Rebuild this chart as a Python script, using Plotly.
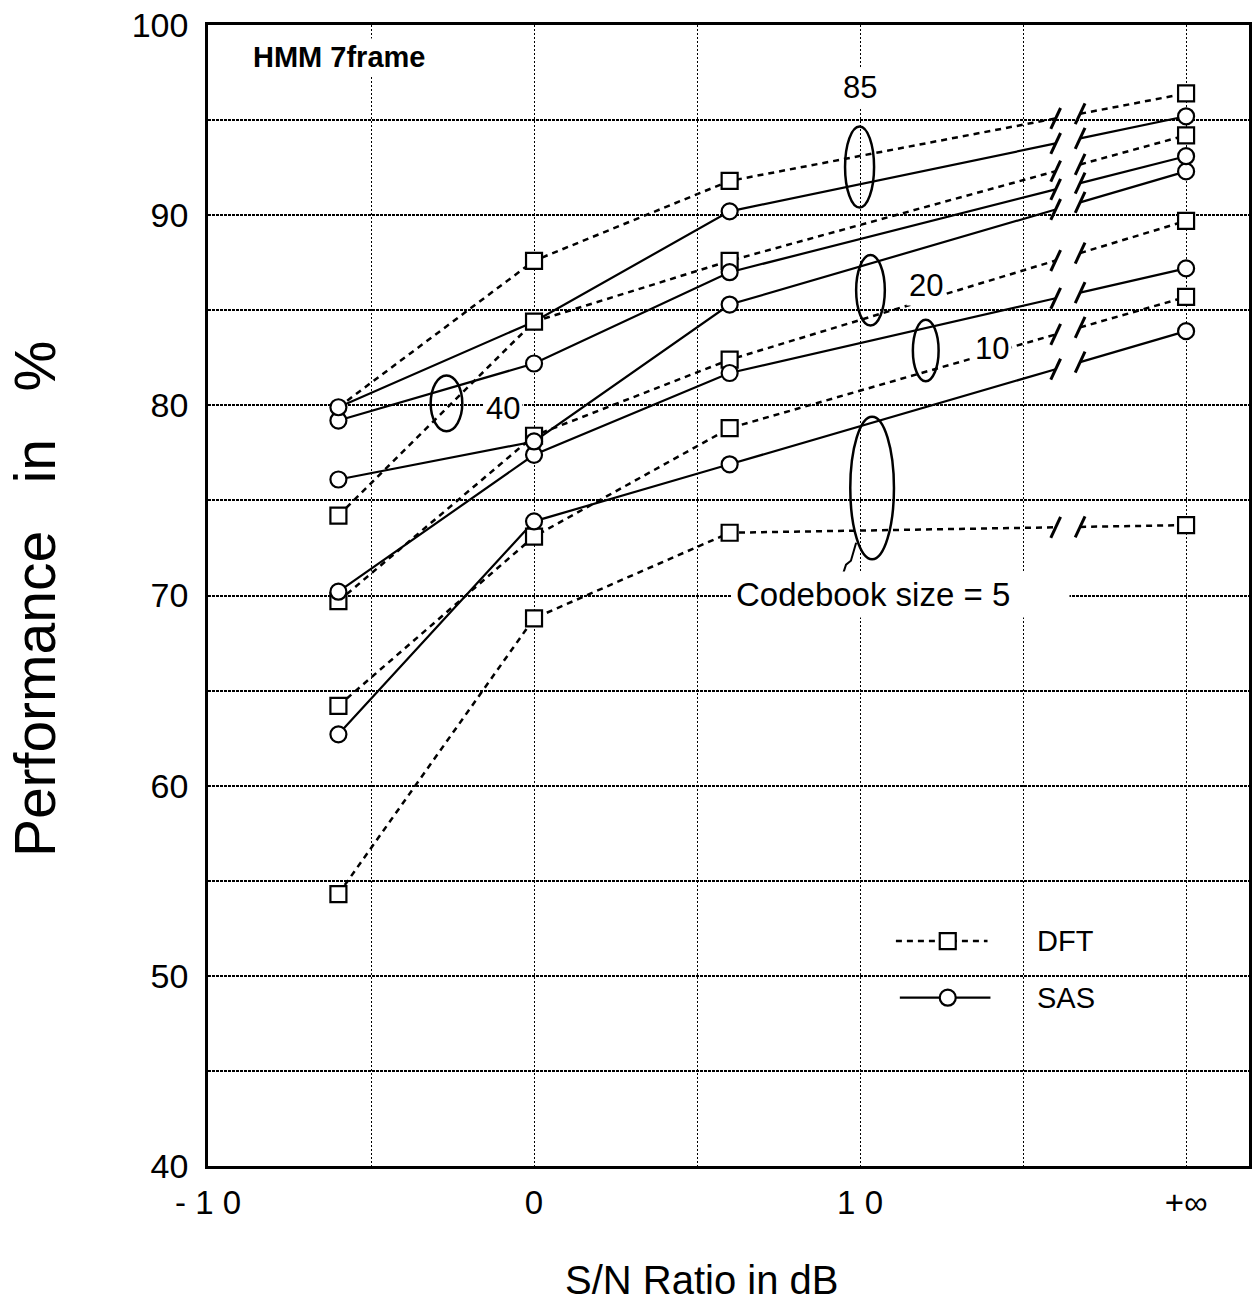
import plotly.graph_objects as go

# ---------------- data ----------------
SN_POS = [-6, 0, 6, 20]          # 20 stands for "+inf" on the axis
CODEBOOK_SIZES = [5, 10, 20, 40, 85]

DFT_5 = [54.3, 68.8, 73.3, 73.7]
DFT_10 = [64.2, 73.1, 78.8, 85.7]
DFT_20 = [69.7, 78.4, 82.4, 89.7]
DFT_40 = [74.2, 84.4, 87.6, 94.2]
DFT_85 = [79.9, 87.6, 91.8, 96.4]

SAS_5 = [62.7, 73.9, 76.9, 83.9]
SAS_10 = [70.2, 77.4, 81.7, 87.2]
SAS_20 = [76.1, 78.1, 85.3, 92.3]
SAS_40 = [79.2, 82.2, 87.0, 93.1]
SAS_85 = [79.9, 84.4, 90.2, 95.2]

DFT = {5: DFT_5, 10: DFT_10, 20: DFT_20, 40: DFT_40, 85: DFT_85}
SAS = {5: SAS_5, 10: SAS_10, 20: SAS_20, 40: SAS_40, 85: SAS_85}

# markers hidden beneath another marker in the original drawing
HIDDEN_DFT = {85: [0]}
HIDDEN_SAS = {85: [1]}

X_TICKS = [-10, 0, 10, 20]
X_TICK_TEXT = ["-\u00a01\u00a00", "0", "1\u00a00", "+\u221e"]
Y_TICKS = [40, 50, 60, 70, 80, 90, 100]

# axis-break positions between 15 dB and +inf
BREAK_X = [16.0, 16.75]

# ---------------- style ----------------
FONT = "Liberation Sans, Arial, Helvetica, sans-serif"
DASH = "6px,5px"

fig = go.Figure()


def broken_series(vals):
    """line coordinates with the axis break between the last two points"""
    x6, xi = SN_POS[2], SN_POS[3]
    y6, yi = vals[2], vals[3]
    yb = [y6 + (yi - y6) * (b - x6) / (xi - x6) for b in BREAK_X]
    xs = SN_POS[:3] + [BREAK_X[0], None, BREAK_X[1], SN_POS[3]]
    ys = vals[:3] + [yb[0], None, yb[1], vals[3]]
    return xs, ys, yb


slash_x, slash_y = [], []
dx, dy = 0.15, 0.55

# lines
for kind, table, dash in (("DFT", DFT, DASH), ("SAS", SAS, "solid")):
    for n in CODEBOOK_SIZES:
        xs, ys, yb = broken_series(table[n])
        fig.add_trace(go.Scatter(
            x=xs, y=ys, mode="lines", connectgaps=False,
            line=dict(color="black", width=2.5 if kind == "DFT" else 2.2, dash=dash),
            hoverinfo="skip", showlegend=False))
        for b, y in zip(BREAK_X, yb):
            slash_x += [b - dx, b + dx, None]
            slash_y += [y - dy, y + dy, None]

fig.add_trace(go.Scatter(x=slash_x, y=slash_y, mode="lines",
                         line=dict(color="black", width=3),
                         hoverinfo="skip", showlegend=False))

# markers: squares first, circles on top
for kind, table, sym, hidden in (("DFT", DFT, "square", HIDDEN_DFT),
                                 ("SAS", SAS, "circle", HIDDEN_SAS)):
    for n in CODEBOOK_SIZES:
        op = [0 if i in hidden.get(n, []) else 1 for i in range(len(SN_POS))]
        fig.add_trace(go.Scatter(
            x=SN_POS, y=table[n], mode="markers",
            marker=dict(symbol=sym, size=16, color="white",
                        opacity=op, line=dict(color="black", width=2.2)),
            name=f"{kind} {n}", showlegend=False))

# ellipses grouping the codebook sizes
ELLIPSES = [  # (x0, x1, y0, y1)
    (9.54, 10.43, 90.4, 94.66),    # 85
    (-3.17, -2.20, 78.64, 81.57),  # 40
    (9.88, 10.76, 84.2, 87.9),     # 20
    (11.62, 12.41, 81.26, 84.5),   # 10
    (9.70, 11.04, 71.9, 79.4),     # 5
]
shapes = []
for x0, x1, y0, y1 in ELLIPSES:
    shapes.append(dict(type="circle", xref="x", yref="y", x0=x0, x1=x1, y0=y0, y1=y1,
                       line=dict(color="black", width=2.5), layer="above"))

# leader squiggle for "Codebook size = 5"
shapes.append(dict(type="path", xref="x", yref="y",
                   path="M 9.39 70.68 L 9.57 71.62 L 9.72 71.83 L 9.88 72.77",
                   line=dict(color="black", width=2)))

# ---------------- legend (drawn) ----------------
LEG_Y = [51.83, 48.85]
fig.add_trace(go.Scatter(x=[11.1, 13.91], y=[LEG_Y[0]] * 2, mode="lines",
                         line=dict(color="black", width=2.5, dash=DASH),
                         hoverinfo="skip", showlegend=False))
fig.add_trace(go.Scatter(x=[11.22, 14.0], y=[LEG_Y[1]] * 2, mode="lines",
                         line=dict(color="black", width=2.2),
                         hoverinfo="skip", showlegend=False))
fig.add_trace(go.Scatter(x=[12.69], y=[LEG_Y[0]], mode="markers",
                         marker=dict(symbol="square", size=16, color="white",
                                     line=dict(color="black", width=2.2)),
                         hoverinfo="skip", showlegend=False))
fig.add_trace(go.Scatter(x=[12.69], y=[LEG_Y[1]], mode="markers",
                         marker=dict(symbol="circle", size=16, color="white",
                                     line=dict(color="black", width=2.2)),
                         hoverinfo="skip", showlegend=False))

annotations = []


def label(text, x, y, size=30, xanchor="center", bg="white", pad=2, weight="normal"):
    annotations.append(dict(text=text, x=x, y=y, xref="x", yref="y", showarrow=False,
                            xanchor=xanchor, yanchor="middle",
                            font=dict(family=FONT, size=size, color="black", weight=weight),
                            bgcolor=bg, borderpad=pad))


label("DFT", 15.35, LEG_Y[0], size=29, xanchor="left", bg="rgba(0,0,0,0)")
label("SAS", 15.35, LEG_Y[1], size=29, xanchor="left", bg="rgba(0,0,0,0)")
label("85", 10.0, 96.7, size=31)
label("20", 12.02, 86.28, size=31)
label("10", 14.04, 82.98, size=31)
label("40", -0.95, 79.84, size=31)
label("Codebook size = 5\u00a0\u00a0\u00a0\u00a0\u00a0\u00a0", 6.05, 70.05, size=33, xanchor="left", pad=4)
label("HMM 7frame", -8.7, 98.32, size=29, xanchor="left", weight="bold")

# axis titles
annotations.append(dict(text="Performance\u00a0\u00a0\u00a0in\u00a0\u00a0\u00a0%", x=-0.166, y=0.497,
                        xref="paper", yref="paper", showarrow=False, textangle=-90,
                        xanchor="center", yanchor="middle",
                        font=dict(family=FONT, size=57, color="black")))
annotations.append(dict(text="S/N Ratio in dB", x=0.474, y=-0.0995,
                        xref="paper", yref="paper", showarrow=False,
                        xanchor="center", yanchor="middle",
                        font=dict(family=FONT, size=40, color="black")))

fig.update_layout(
    width=1258, height=1306,
    margin=dict(l=208, r=6, t=20, b=140),
    paper_bgcolor="white", plot_bgcolor="white",
    shapes=shapes, annotations=annotations,
    showlegend=False,
    font=dict(family=FONT, color="black"),
)
fig.update_xaxes(range=[-10, 21.93], tickvals=X_TICKS, ticktext=X_TICK_TEXT,
                 tickfont=dict(size=33, family=FONT, color="black"),
                 showgrid=False,
                 showline=True, linecolor="black", linewidth=2.5, mirror=True,
                 ticks="", ticklabelstandoff=6, zeroline=False,
                 minor=dict(tickvals=[-5, 0, 5, 10, 15, 20], showgrid=True,
                            gridcolor="black", gridwidth=1.3, griddash="2px,2px", ticks=""))
fig.update_yaxes(range=[40, 100], tickvals=Y_TICKS,
                 tickfont=dict(size=34, family=FONT, color="black"),
                 showgrid=False,
                 showline=True, linecolor="black", linewidth=2.5, mirror=True,
                 ticks="", ticklabelstandoff=10, zeroline=False,
                 minor=dict(tickvals=[45, 50, 55, 60, 65, 70, 75, 80, 85, 90, 95],
                            showgrid=True, gridcolor="black", gridwidth=1.6,
                            griddash="3px,1px", ticks=""))

fig.write_html("out.html")
